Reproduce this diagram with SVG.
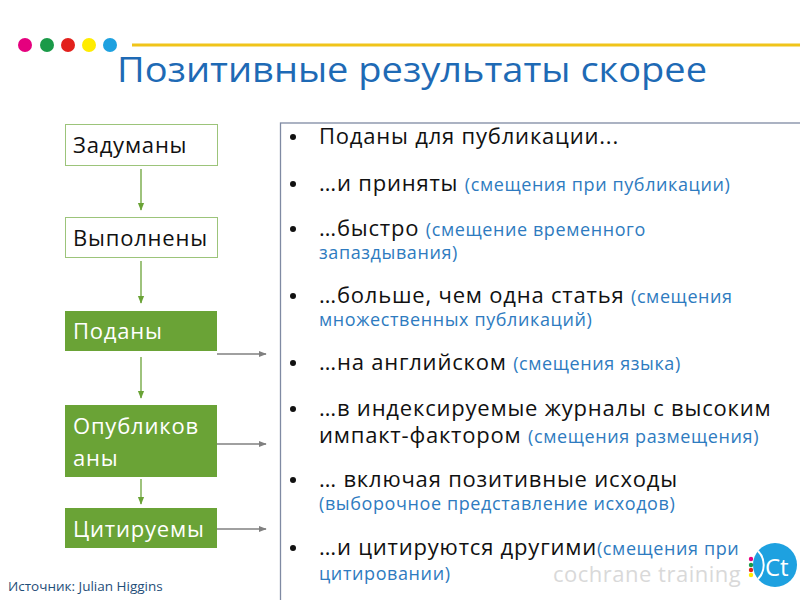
<svg xmlns="http://www.w3.org/2000/svg" width="800" height="600" viewBox="0 0 800 600">
<defs>
<style>
.t{font-family:"Open Sans","Liberation Sans",sans-serif;}
.main{font-size:22px;fill:#111;letter-spacing:0.8px;}
.par{font-size:18px;fill:#2e7bc0;letter-spacing:0.6px;}
.node-w{fill:#fff;stroke:#9cc47a;stroke-width:1;}
.node-g{fill:#6aa336;}
.lbl-d{font-size:22px;fill:#111;letter-spacing:0.8px;}
.lbl-w{font-size:22px;fill:#fff;letter-spacing:0.8px;}
.ga{stroke:#6aa336;stroke-width:1.3;fill:none;}
.gr{stroke:#808080;stroke-width:1.3;fill:none;}
</style>
<marker id="ag" viewBox="0 0 10 10" refX="9" refY="5" markerWidth="6" markerHeight="6" orient="auto"><path d="M0,1 L10,5 L0,9 z" fill="#6aa336"/></marker>
<marker id="ar" viewBox="0 0 10 10" refX="9" refY="5" markerWidth="6" markerHeight="6" orient="auto"><path d="M0,1 L10,5 L0,9 z" fill="#808080"/></marker>
</defs>
<rect width="800" height="600" fill="#fff"/>
<g id="header">
<circle cx="25" cy="45" r="7" fill="#e5007e"/>
<circle cx="47" cy="45" r="7" fill="#1a9a48"/>
<circle cx="68" cy="45" r="7" fill="#e2211c"/>
<circle cx="89" cy="45" r="7" fill="#ffec00"/>
<circle cx="110" cy="45" r="7" fill="#1ea1e0"/>
<line x1="132" y1="45" x2="800" y2="45" stroke="#f0c419" stroke-width="3"/>
<text class="t" x="117" y="82" font-size="35" fill="#1e6ab5" textLength="590" lengthAdjust="spacingAndGlyphs">Позитивные результаты скорее</text>
</g>
<g id="list">
<rect x="280.5" y="123" width="540" height="490" fill="#fff" stroke="#7f8aa3" stroke-width="1.3"/>
<g fill="#111">
<circle cx="293" cy="137" r="3"/>
<circle cx="293" cy="184" r="3"/>
<circle cx="293" cy="229" r="3"/>
<circle cx="293" cy="296" r="3"/>
<circle cx="293" cy="363" r="3"/>
<circle cx="293" cy="409" r="3"/>
<circle cx="293" cy="480" r="3"/>
<circle cx="293" cy="548" r="3"/>
</g>
<text class="t main" x="319" y="144">Поданы для публикации...</text>
<text class="t main" x="319" y="191">…и приняты <tspan class="par">(смещения при публикации)</tspan></text>
<text class="t main" x="319" y="236">…быстро <tspan class="par">(смещение временного</tspan></text>
<text class="t par" x="319" y="259">запаздывания)</text>
<text class="t main" x="319" y="303">…больше, чем одна статья <tspan class="par">(смещения</tspan></text>
<text class="t par" x="319" y="326">множественных публикаций)</text>
<text class="t main" x="319" y="370">…на английском <tspan class="par">(смещения языка)</tspan></text>
<text class="t main" x="319" y="416">…в индексируемые журналы с высоким</text>
<text class="t main" x="319" y="443">импакт-фактором <tspan class="par">(смещения размещения)</tspan></text>
<text class="t main" x="319" y="487">… включая позитивные исходы</text>
<text class="t par" x="319" y="510">(выборочное представление исходов)</text>
<text class="t main" x="319" y="555">…и цитируются другими<tspan class="par">(смещения при</tspan></text>
<text class="t par" x="319" y="580">цитировании)</text>
</g>
<g id="n1"><rect class="node-w" x="65.5" y="124.5" width="152" height="41"/><text class="t lbl-d" x="73" y="153">Задуманы</text></g>
<g id="n2"><rect class="node-w" x="65.5" y="217.5" width="152" height="40"/><text class="t lbl-d" x="73" y="246">Выполнены</text></g>
<g id="n3"><rect class="node-g" x="65" y="311" width="152" height="40"/><text class="t lbl-w" x="73" y="339">Поданы</text></g>
<g id="n4"><rect class="node-g" x="65" y="405" width="152" height="72"/><text class="t lbl-w" x="73" y="434">Опубликов</text><text class="t lbl-w" x="73" y="466">аны</text></g>
<g id="n5"><rect class="node-g" x="65" y="508" width="152" height="40"/><text class="t lbl-w" x="73" y="537">Цитируемы</text></g>
<g id="connectors">
<line class="ga" x1="141" y1="169" x2="141" y2="210" marker-end="url(#ag)"/>
<line class="ga" x1="141" y1="261" x2="141" y2="303" marker-end="url(#ag)"/>
<line class="ga" x1="141" y1="357" x2="141" y2="398" marker-end="url(#ag)"/>
<line class="ga" x1="141" y1="479" x2="141" y2="504" marker-end="url(#ag)"/>
<line class="gr" x1="217" y1="354" x2="266" y2="354" marker-end="url(#ar)"/>
<line class="gr" x1="217" y1="444" x2="266" y2="444" marker-end="url(#ar)"/>
<line class="gr" x1="217" y1="529" x2="266" y2="529" marker-end="url(#ar)"/>
</g>
<g id="footer">
<text class="t" x="8" y="591" font-size="13.5" fill="#1f4e79">Источник: Julian Higgins</text>
<text class="t" x="553" y="582" font-size="22" fill="#d9d9d9" letter-spacing="0.5">cochrane training</text>
<circle cx="775" cy="565" r="22" fill="#1ea1e0"/>
<path d="M758,551 A20,20 0 0 1 758,579" fill="none" stroke="#fff" stroke-width="2"/>
<text class="t" x="765" y="576" font-size="24" fill="#fff">Ct</text>
<circle cx="751" cy="559" r="2.2" fill="#e5007e"/>
<circle cx="751" cy="565" r="2.2" fill="#1a9a48"/>
<circle cx="751" cy="570" r="2.2" fill="#e2211c"/>
<circle cx="751" cy="575" r="2.2" fill="#ffec00"/>
</g>
</svg>
